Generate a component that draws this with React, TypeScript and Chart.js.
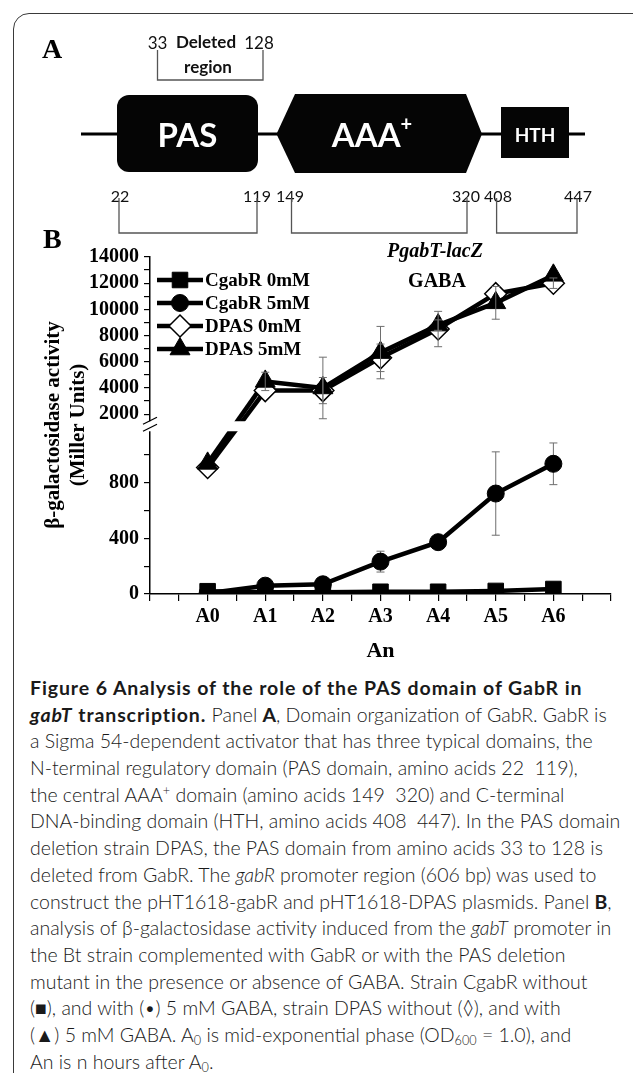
import React, { useEffect, useRef } from 'react';
import { Chart, registerables } from 'chart.js';
import { drawPoint } from 'chart.js/helpers';

Chart.register(...registerables);

// ---------------- data ----------------
const categories = ['A0', 'A1', 'A2', 'A3', 'A4', 'A5', 'A6'];
const seriesNames = ['CgabR 0mM', 'CgabR 5mM', 'DPAS 0mM', 'DPAS 5mM'];
const cgabR0mM = [20, 12, 12, 16, 16, 22, 36];
const cgabR5mM = [6, 60, 70, 233, 373, 723, 937];
const dpas0mM = [910, 3800, 3800, 6300, 8500, 11200, 12000];
const dpas5mM = [940, 4500, 4000, 6700, 8800, 10500, 12600];
const cgabR0mMErr = [0, 0, 0, 0, 0, 0, 0];
const cgabR5mMErr = [0, 0, 0, 75, 0, 300, 150];
const dpas0mMErr = [0, 0, 1000, 1050, 1350, 0, 400];
const dpas5mMErr = [0, 700, 2350, 2000, 400, 1250, 0];
const lowTickLabels = [0, 400, 800];
const highTickLabels = [2000, 4000, 6000, 8000, 10000, 12000, 14000];
const lowRange = [0, 1200];
const highRange = [1000, 14000];

// ---------------- styles ----------------
const SERIF = "'Liberation Serif', 'Times New Roman', serif";
const SANS = "Lato, 'Open Sans', sans-serif";

type Series = {
  name: string; values: number[]; errors: number[];
  pointStyle: string; radius: number; fill: string; border: number; order: number; errAbove: boolean;
};
const SERIES: Series[] = [
  { name: seriesNames[0], values: cgabR0mM, errors: cgabR0mMErr, pointStyle: 'rect', radius: 11, fill: '#000', border: 1, order: 3, errAbove: false },
  { name: seriesNames[1], values: cgabR5mM, errors: cgabR5mMErr, pointStyle: 'circle', radius: 8.5, fill: '#000', border: 1, order: 2, errAbove: false },
  { name: seriesNames[2], values: dpas0mM, errors: dpas0mMErr, pointStyle: 'rectRot', radius: 11, fill: '#fff', border: 1.5, order: 1, errAbove: true },
  { name: seriesNames[3], values: dpas5mM, errors: dpas5mMErr, pointStyle: 'triangle', radius: 11.5, fill: '#000', border: 1, order: 0, errAbove: true },
];
const LINE_W = 4.5;

const isHigh = (v: number) => v > lowRange[1];

function buildDatasets() {
  const out: any[] = [];
  SERIES.forEach((s) => {
    const pts = s.values.map((v, i) => ({ x: i, y: v }));
    const low = pts.filter((p) => !isHigh(p.y));
    const high = pts.filter((p) => isHigh(p.y));
    const common = {
      label: s.name,
      borderColor: '#000',
      borderWidth: LINE_W,
      pointStyle: s.pointStyle,
      pointRadius: s.radius,
      pointHoverRadius: s.radius,
      pointBackgroundColor: s.fill,
      pointBorderColor: '#000',
      pointBorderWidth: s.border,
      order: s.order,
      tension: 0,
      fill: false,
    };
    if (low.length) out.push({ ...common, data: low, yAxisID: 'yLow' });
    if (high.length) out.push({ ...common, data: high, yAxisID: 'yHigh' });
  });
  return out;
}

function yPix(chart: any, v: number) {
  return (isHigh(v) ? chart.scales.yHigh : chart.scales.yLow).getPixelForValue(v);
}

function drawErrors(chart: any, above: boolean) {
  const ctx = chart.ctx;
  const xs = chart.scales.x;
  ctx.save();
  ctx.strokeStyle = '#6e6e6e';
  ctx.lineWidth = 1;
  SERIES.filter((s) => s.errAbove === above).forEach((s) => {
    s.values.forEach((v, i) => {
      const e = s.errors[i];
      if (!e) return;
      const x = xs.getPixelForValue(i);
      const sc = isHigh(v) ? chart.scales.yHigh : chart.scales.yLow;
      const y1 = sc.getPixelForValue(v + e);
      const y2 = sc.getPixelForValue(v - e);
      ctx.beginPath();
      ctx.moveTo(x, y1); ctx.lineTo(x, y2);
      ctx.moveTo(x - 4, y1); ctx.lineTo(x + 4, y1);
      ctx.moveTo(x - 4, y2); ctx.lineTo(x + 4, y2);
      ctx.stroke();
    });
  });
  ctx.restore();
}

const extrasPlugin = {
  id: 'brokenAxisExtras',
  beforeDatasetsDraw(chart: any) {
    const ctx = chart.ctx;
    const xs = chart.scales.x;
    // connectors across the axis break
    ctx.save();
    ctx.strokeStyle = '#000';
    ctx.lineWidth = LINE_W;
    ctx.lineJoin = 'round';
    SERIES.forEach((s) => {
      for (let i = 0; i < s.values.length - 1; i++) {
        const a = s.values[i], b = s.values[i + 1];
        if (isHigh(a) !== isHigh(b)) {
          ctx.beginPath();
          ctx.moveTo(xs.getPixelForValue(i), yPix(chart, a));
          ctx.lineTo(xs.getPixelForValue(i + 1), yPix(chart, b));
          ctx.stroke();
        }
      }
    });
    ctx.restore();
    drawErrors(chart, false);
  },
  afterDatasetsDraw(chart: any) {
    const ctx = chart.ctx;
    const area = chart.chartArea;
    const b = chart.scales.yLow.top;
    const ax = chart.scales.yLow.right;
    // white gap at the break
    ctx.save();
    ctx.fillStyle = '#fff';
    ctx.fillRect(ax - 2, b - 6, area.right - ax + 4, 10);
    // break marks
    ctx.strokeStyle = '#000';
    ctx.lineWidth = 1.3;
    ctx.beginPath();
    ctx.moveTo(ax - 7, b - 3); ctx.lineTo(ax + 7, b - 10);
    ctx.moveTo(ax - 7, b + 4); ctx.lineTo(ax + 7, b - 3);
    ctx.stroke();
    ctx.restore();

    drawErrors(chart, true);

    // legend
    ctx.save();
    const lx = area.left;
    SERIES.forEach((s, k) => {
      const y = area.top + 23 + k * 23;
      ctx.strokeStyle = '#000';
      ctx.lineWidth = LINE_W;
      ctx.beginPath();
      ctx.moveTo(lx + 7, y); ctx.lineTo(lx + 53, y);
      ctx.stroke();
      ctx.fillStyle = s.fill;
      ctx.strokeStyle = '#000';
      ctx.lineWidth = s.border;
      drawPoint(ctx, { pointStyle: s.pointStyle as any, rotation: 0, radius: s.radius, borderWidth: s.border }, lx + 30, y);
      ctx.fillStyle = '#000';
      ctx.font = `bold 19px ${SERIF}`;
      ctx.textBaseline = 'middle';
      ctx.textAlign = 'left';
      ctx.fillText(s.name, lx + 55, y + 1);
    });
    ctx.restore();
  },
};

const tickFont = { family: SERIF, size: 20, weight: 'bold' as const };

function makeConfig(): any {
  return {
    type: 'line',
    data: { datasets: buildDatasets() },
    options: {
      animation: false,
      responsive: false,
      parsing: true,
      layout: { padding: { top: 17, right: 22, bottom: 11, left: 0 } },
      plugins: { legend: { display: false }, tooltip: { enabled: false } },
      events: [],
      scales: {
        x: {
          type: 'linear',
          position: 'bottom',
          min: -1,
          max: 7,
          ticks: {
            stepSize: 0.5,
            autoSkip: false,
            maxRotation: 0,
            padding: 4,
            color: '#000',
            font: tickFont,
            callback: (v: any) => {
              const i = Number(v);
              return Number.isInteger(i) && i >= 0 && i < categories.length ? categories[i] : '';
            },
          },
          grid: { drawOnChartArea: false, drawTicks: true, tickLength: 7, color: '#000', lineWidth: 1.2 },
          border: { display: true, color: '#000', width: 1.5 },
          title: { display: true, text: 'An', color: '#000', font: { family: SERIF, size: 22, weight: 'bold' }, padding: { top: 0, bottom: 4 } },
          afterFit: (s: any) => { s.height = 75; },
        },
        yLow: {
          type: 'linear',
          position: 'left',
          stack: 'y',
          stackWeight: 166.5,
          weight: 0,
          min: lowRange[0],
          max: lowRange[1],
          afterBuildTicks: (axis: any) => { axis.ticks = axis.ticks.filter((t: any) => t.value <= 1000); },
          ticks: {
            stepSize: 200,
            autoSkip: false,
            padding: 5,
            color: '#000',
            font: tickFont,
            callback: (v: any) => (lowTickLabels.includes(Number(v)) ? String(v) : ''),
          },
          grid: { drawOnChartArea: false, drawTicks: true, tickLength: 6, color: '#000', lineWidth: 1.2 },
          border: { display: true, color: '#000', width: 1.5 },
          afterFit: (s: any) => { s.width = 150; },
        },
        yHigh: {
          type: 'linear',
          position: 'left',
          stack: 'y',
          stackWeight: 170,
          weight: 1,
          min: highRange[0],
          max: highRange[1],
          afterBuildTicks: (axis: any) => { axis.ticks = axis.ticks.filter((t: any) => t.value >= 2000); },
          ticks: {
            stepSize: 1000,
            autoSkip: false,
            padding: 5,
            color: '#000',
            font: tickFont,
            callback: (v: any) => (highTickLabels.includes(Number(v)) ? String(v) : ''),
          },
          grid: { drawOnChartArea: false, drawTicks: true, tickLength: 6, color: '#000', lineWidth: 1.2 },
          border: { display: true, color: '#000', width: 1.5 },
          afterFit: (s: any) => { s.width = 150; },
        },
      },
    },
    plugins: [extrasPlugin],
  };
}

const B = ({ children }: { children: React.ReactNode }) => (
  <b style={{ fontWeight: 700, letterSpacing: '0.9px' }}>{children}</b>
);
const subStyle: React.CSSProperties = { fontSize: '0.65em', lineHeight: 0, verticalAlign: '-0.25em' };

const captionLines: React.ReactNode[] = [
  <B>Figure 6 Analysis of the role of the PAS domain of GabR in</B>,
  <><B><i>gabT</i> transcription.</B> Panel <b style={{ fontWeight: 700 }}>A</b>, Domain organization of GabR. GabR is</>,
  <>a Sigma 54-dependent activator that has three typical domains, the</>,
  <>N-terminal regulatory domain (PAS domain, amino acids 22  119),</>,
  <>the central AAA<sup style={{ fontSize: '0.65em', lineHeight: 0, verticalAlign: '0.55em' }}>+</sup> domain (amino acids 149  320) and C-terminal</>,
  <>DNA-binding domain (HTH, amino acids 408  447). In the PAS domain</>,
  <>deletion strain DPAS, the PAS domain from amino acids 33 to 128 is</>,
  <>deleted from GabR. The <i>gabR</i> promoter region (606 bp) was used to</>,
  <>construct the pHT1618-gabR and pHT1618-DPAS plasmids. Panel <b style={{ fontWeight: 700 }}>B</b>,</>,
  <>analysis of β-galactosidase activity induced from the <i>gabT</i> promoter in</>,
  <>the Bt strain complemented with GabR or with the PAS deletion</>,
  <>mutant in the presence or absence of GABA. Strain CgabR without</>,
  <>(■), and with (•) 5 mM GABA, strain DPAS without (◊), and with</>,
  <>(▲) 5 mM GABA. A<sub style={subStyle}>0</sub> is mid-exponential phase (OD<sub style={subStyle}>600</sub> = 1.0), and</>,
  <>An is n hours after A<sub style={subStyle}>0</sub>.</>,
];

function PanelA() {
  const num = { fontFamily: SANS, fontSize: 16, fill: '#111', textAnchor: 'middle' as const, dominantBaseline: 'central' as const };
  const bracket = { fill: 'none', stroke: '#555', strokeWidth: 1.3 };
  return (
    <svg width={633} height={262} style={{ position: 'absolute', left: 0, top: 0, zIndex: 2 }}>
      <text x={42} y={58} fontFamily={SERIF} fontWeight="bold" fontSize={28} fill="#000">A</text>
      <text x={43} y={248} fontFamily={SERIF} fontWeight="bold" fontSize={28} fill="#000">B</text>

      <text x={157.5} y={42} {...num} fontSize={17}>33</text>
      <text x={206} y={41} {...num} fontSize={17} fontWeight="bold">Deleted</text>
      <text x={208} y={66} {...num} fontSize={17} fontWeight="bold">region</text>
      <text x={259} y={42} {...num} fontSize={17}>128</text>
      <path d="M157.5 50 V80 H263 V50" {...bracket} />

      <line x1={81} y1={134} x2={585} y2={134} stroke="#000" strokeWidth={3} />
      <rect x={117} y={95} width={141} height={77} rx={12} fill="#050505" />
      <polygon points="276.5,134 295,94 466,94 482,134 466,173 295,173" fill="#050505" />
      <rect x={501} y={107} width={68} height={51} fill="#050505" />
      <text x={187.5} y={134} fontFamily={SANS} fontWeight="bold" fontSize={33} fill="#fff" textAnchor="middle" dominantBaseline="central">PAS</text>
      <text x={372} y={134} fontFamily={SANS} fontWeight="bold" fontSize={33} fill="#fff" textAnchor="middle" dominantBaseline="central">AAA<tspan fontSize={20} dy={-11}>+</tspan></text>
      <text x={535} y={134} fontFamily={SANS} fontWeight="bold" fontSize={19} fill="#fff" textAnchor="middle" dominantBaseline="central">HTH</text>

      <text x={120} y={195} {...num}>22</text>
      <text x={257} y={195} {...num}>119</text>
      <text x={290} y={195} {...num}>149</text>
      <text x={466} y={195} {...num}>320</text>
      <text x={498} y={195} {...num}>408</text>
      <text x={578} y={195} {...num}>447</text>
      <path d="M119 198 V233 H257 V198" {...bracket} />
      <path d="M291.5 198 V233 H467 V198" {...bracket} />
      <path d="M496.6 198 V233 H577 V198" {...bracket} />
    </svg>
  );
}

export default function App() {
  const ref = useRef<HTMLCanvasElement>(null);
  useEffect(() => {
    if (!ref.current) return;
    const chart = new Chart(ref.current, makeConfig());
    return () => chart.destroy();
  }, []);

  return (
    <div style={{ position: 'absolute', left: 0, top: 0, width: 633, height: 1073, overflow: 'hidden', background: '#fff' }}>
      <div style={{ position: 'absolute', left: 13, top: 13, width: 700, height: 1200, border: '1.5px solid #3a3a3a', borderTopLeftRadius: 16, boxSizing: 'border-box' }} />
      <PanelA />
      <canvas ref={ref} width={633} height={440} style={{ position: 'absolute', left: 0, top: 240, width: 633, height: 440, zIndex: 1 }} />
      <div style={{ position: 'absolute', left: 65 - 130, top: 425 - 25, width: 260, height: 50, lineHeight: '25px', textAlign: 'center', transform: 'rotate(-90deg)', fontFamily: SERIF, fontWeight: 'bold', fontSize: 21, color: '#000', whiteSpace: 'nowrap', zIndex: 3 }}>
        <div>β-galactosidase activity</div>
        <div>(Miller Units)</div>
      </div>
      <div style={{ position: 'absolute', left: 435 - 80, top: 250 - 12, width: 160, textAlign: 'center', lineHeight: '24px', fontFamily: SERIF, fontWeight: 'bold', fontStyle: 'italic', fontSize: 20, zIndex: 3 }}>PgabT-lacZ</div>
      <div style={{ position: 'absolute', left: 437 - 80, top: 280 - 12, width: 160, textAlign: 'center', lineHeight: '24px', fontFamily: SERIF, fontWeight: 'bold', fontSize: 20, zIndex: 3 }}>GABA</div>
      <div style={{ position: 'absolute', left: 30, top: 675, fontFamily: SANS, fontSize: 19.5, fontWeight: 300, color: '#1a1a1a', lineHeight: '26.7px' }}>
        {captionLines.map((l, i) => (
          <div key={i} style={{ whiteSpace: 'pre', height: 26.7 }}>{l}</div>
        ))}
      </div>
    </div>
  );
}
